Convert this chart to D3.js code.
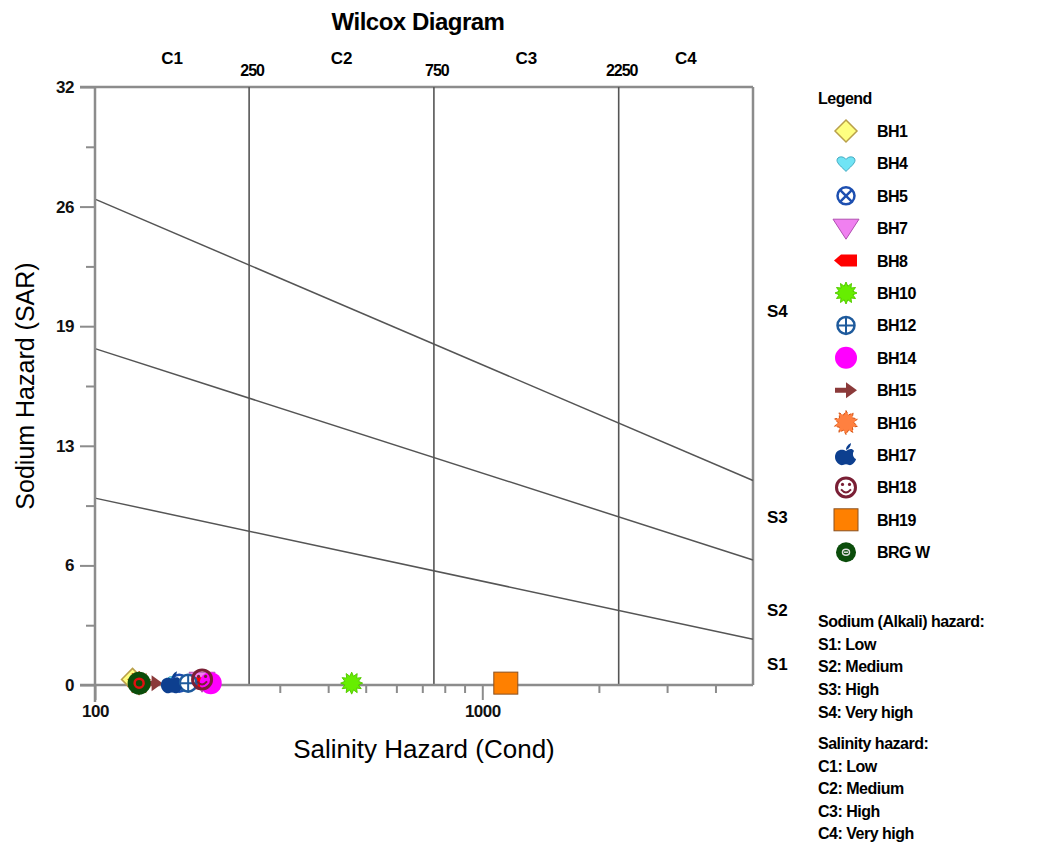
<!DOCTYPE html>
<html>
<head>
<meta charset="utf-8">
<script src="https://cdn.jsdelivr.net/npm/d3@7"></script>
<style>
  body { margin: 0; background: #fff; }
  svg { font-family: "Liberation Sans", Arial, sans-serif; }
</style>
</head>
<body>
<svg id="chart" width="1038" height="844"></svg>
<script>
// sample names, conductivity (EC) and SAR
var samples = ['BH1', 'BH4', 'BH5', 'BH7', 'BH8', 'BH10', 'BH12', 'BH14', 'BH15', 'BH16', 'BH17', 'BH18', 'BH19', 'BRG W'];
var ecValues = [125, 162, 165, 189, 186, 460, 174, 199, 140, 130, 158, 189, 1150, 130];
var sarValues = [0.3, 0.1, 0.1, 0.2, 0.1, 0.1, 0.1, 0.1, 0.1, 0.1, 0.1, 0.3, 0.1, 0.1];
var markerTypes = ['diamond', 'heart', 'circleX', 'triDown', 'arrowLeft', 'burstGreen', 'circlePlus', 'dot', 'arrowRight', 'burstOrange', 'apple', 'smiley', 'square', 'brg'];

// salinity class boundaries and class labels
var ecBounds = [250, 750, 2250];
var cClasses = ['C1', 'C2', 'C3', 'C4'];
var cEdges = [100, 250, 750, 2250, 5000];

// sodium hazard dividing lines: SAR at EC=100 and at EC=5000
var sarLineStart = [10, 18, 26];
var sarLineEnd = [2.45, 6.69, 10.94];
var sLabels = ['S1', 'S2', 'S3', 'S4'];
var sLabelSar = [1.1, 4.0, 9.0, 20.0];

// ticks
var yMajor = [0, 6.4, 12.8, 19.2, 25.6, 32];
var yMinor = [3.2, 9.6, 16, 22.4, 28.8];
var xMajor = [100, 1000];
var xMinor = [200, 300, 400, 500, 600, 700, 800, 900, 2000, 3000, 4000];

var notesSodium = ['Sodium (Alkali) hazard:', 'S1: Low', 'S2: Medium', 'S3: High', 'S4: Very high'];
var notesSalinity = ['Salinity hazard:', 'C1: Low', 'C2: Medium', 'C3: High', 'C4: Very high'];

var svg = d3.select('#chart');
var pLeft = 95, pRight = 753, pTop = 87, pBottom = 685;
var axisColor = '#8c8c8c';

var x = d3.scaleLog().domain([100, 5000]).range([pLeft, pRight]);
var y = d3.scaleLinear().domain([0, 32]).range([pBottom, pTop]);

// title
svg.append('text').attr('x', 418).attr('y', 30).attr('text-anchor', 'middle')
  .style('font-size', '24px').style('font-weight', 'bold').style('letter-spacing', '-0.5px').text('Wilcox Diagram');

// frame (top + right)
svg.append('line').attr('x1', pLeft - 15).attr('x2', pRight).attr('y1', pTop).attr('y2', pTop)
  .attr('stroke', axisColor).attr('stroke-width', 2.5);
svg.append('line').attr('x1', pRight).attr('x2', pRight).attr('y1', pTop).attr('y2', pBottom)
  .attr('stroke', axisColor).attr('stroke-width', 2.5);

// class boundaries
svg.selectAll('.vbound').data(ecBounds).enter().append('line')
  .attr('x1', function(d) { return x(d); }).attr('x2', function(d) { return x(d); })
  .attr('y1', pTop).attr('y2', pBottom)
  .attr('stroke', '#555').attr('stroke-width', 1.6);

svg.selectAll('.vlab').data(ecBounds).enter().append('text')
  .attr('x', function(d) { return x(d) + 3; }).attr('y', 76).attr('text-anchor', 'middle')
  .style('font-size', '16px').style('font-weight', 'bold').style('letter-spacing', '-1px')
  .text(function(d) { return d; });

svg.selectAll('.clab').data(cClasses).enter().append('text')
  .attr('x', function(d, i) { return x(Math.sqrt(cEdges[i] * cEdges[i + 1])); })
  .attr('y', 64).attr('text-anchor', 'middle')
  .style('font-size', '17px').style('font-weight', 'bold')
  .text(function(d) { return d; });

// sodium lines
svg.selectAll('.sline').data(sarLineStart).enter().append('line')
  .attr('x1', x(100)).attr('y1', function(d) { return y(d); })
  .attr('x2', x(5000)).attr('y2', function(d, i) { return y(sarLineEnd[i]); })
  .attr('stroke', '#555').attr('stroke-width', 1.5);

svg.selectAll('.slab').data(sLabels).enter().append('text')
  .attr('x', 767).attr('y', function(d, i) { return y(sLabelSar[i]) + 6; })
  .style('font-size', '17px').style('font-weight', 'bold')
  .text(function(d) { return d; });

// y axis
svg.append('g').attr('transform', 'translate(' + pLeft + ',0)')
  .call(d3.axisLeft(y).tickValues(yMajor).tickSize(15).tickPadding(6).tickFormat(d3.format('.0f')));
svg.append('g').attr('transform', 'translate(' + pLeft + ',0)')
  .call(d3.axisLeft(y).tickValues(yMinor).tickSize(9).tickFormat(''));

// x axis
svg.append('g').attr('transform', 'translate(0,' + pBottom + ')')
  .call(d3.axisBottom(x).tickValues(xMajor).tickSize(15).tickPadding(5).tickFormat(d3.format('d')));
svg.append('g').attr('transform', 'translate(0,' + pBottom + ')')
  .call(d3.axisBottom(x).tickValues(xMinor).tickSize(8).tickFormat(''));

svg.selectAll('.domain').remove();
svg.selectAll('.tick line').attr('stroke', axisColor).attr('stroke-width', 2);
svg.selectAll('.tick text').style('font-size', '17px').style('font-weight', 'bold')
  .style('letter-spacing', '-0.5px').attr('fill', '#111');

svg.append('line').attr('x1', pLeft).attr('x2', pLeft).attr('y1', pTop).attr('y2', 702)
  .attr('stroke', axisColor).attr('stroke-width', 2.5);
svg.append('line').attr('x1', pLeft - 15).attr('x2', pRight).attr('y1', pBottom).attr('y2', pBottom)
  .attr('stroke', axisColor).attr('stroke-width', 2.5);

// axis titles
svg.append('text').attr('transform', 'translate(34,386) rotate(-90)')
  .attr('text-anchor', 'middle').style('font-size', '25px').text('Sodium Hazard (SAR)');
svg.append('text').attr('x', 424).attr('y', 758).attr('text-anchor', 'middle')
  .style('font-size', '26px').text('Salinity Hazard (Cond)');

// marker drawing
function starPath(n, r1, r2) {
  var pts = [];
  for (var i = 0; i < n * 2; i++) {
    var a = Math.PI * i / n;
    var r = i % 2 ? r2 : r1;
    pts.push([Math.sin(a) * r, -Math.cos(a) * r]);
  }
  return d3.line()(pts) + 'Z';
}

function drawMarker(g, type, inPlot) {
  if (type == 'diamond') {
    g.append('path').attr('d', 'M0,-11L11,0L0,11L-11,0Z')
      .attr('fill', '#ffff80').attr('stroke', '#b9a04a').attr('stroke-width', 1.5);
  } else if (type == 'heart') {
    g.append('path').attr('d', 'M0,8C-4,4 -9,0 -9,-3C-9,-7 -3,-8 0,-4C3,-8 9,-7 9,-3C9,0 4,4 0,8Z')
      .attr('fill', '#70e4f5').attr('stroke', '#45a9c0').attr('stroke-width', 1);
  } else if (type == 'circleX') {
    g.append('circle').attr('r', 8.5).attr('fill', '#fff').attr('stroke', '#1d4fb0').attr('stroke-width', 2.5);
    g.append('path').attr('d', 'M-6,-6L6,6M-6,6L6,-6').attr('stroke', '#1d4fb0').attr('stroke-width', 2.5);
  } else if (type == 'triDown') {
    g.append('path').attr('d', 'M-13,-9L13,-9L0,11Z')
      .attr('fill', '#f080f0').attr('stroke', '#b050b0').attr('stroke-width', 1);
  } else if (type == 'arrowLeft') {
    g.append('path').attr('d', 'M-12,0L-5,-6L11,-6L11,6L-5,6Z').attr('fill', '#ff0000');
  } else if (type == 'burstGreen') {
    g.append('path').attr('d', starPath(12, 11, 7)).attr('fill', '#66ee00').attr('stroke', '#55cc00');
  } else if (type == 'circlePlus') {
    g.append('circle').attr('r', 8.5).attr('fill', '#fff').attr('stroke', '#1e5a9c').attr('stroke-width', 2.5);
    g.append('path').attr('d', 'M0,-8L0,8M-8,0L8,0').attr('stroke', '#1e5a9c').attr('stroke-width', 2);
  } else if (type == 'dot') {
    g.append('circle').attr('r', 11).attr('fill', '#ff00ff');
  } else if (type == 'arrowRight') {
    g.append('path').attr('d', 'M-11,-2.5L0,-2.5L0,-8L11,0L0,8L0,2.5L-11,2.5Z').attr('fill', '#8b3a3a');
  } else if (type == 'burstOrange') {
    g.append('path').attr('d', starPath(10, 12, 8)).attr('fill', '#ff8040')
      .attr('stroke', '#d05010').attr('stroke-dasharray', '3,2');
  } else if (type == 'apple') {
    g.append('path').attr('d', 'M0,-4C-4,-7 -11,-5 -11,2C-11,7 -6,11 -3,10C-1,9 1,9 3,10C6,11 10,6 10,4C7,3 6,-2 8,-4C6,-7 3,-6 0,-4Z')
      .attr('fill', '#0d3f8f');
    g.append('path').attr('d', 'M0,-5C0,-9 3,-11 5,-12C5,-9 3,-6 0,-5Z').attr('fill', '#0d3f8f');
  } else if (type == 'smiley') {
    g.append('circle').attr('r', 9.5).attr('fill', inPlot ? 'none' : '#fff').attr('stroke', '#7a1f35').attr('stroke-width', 3);
    g.append('circle').attr('cx', -3.5).attr('cy', -3).attr('r', 1.6).attr('fill', '#7a1f35');
    g.append('circle').attr('cx', 3.5).attr('cy', -3).attr('r', 1.6).attr('fill', '#7a1f35');
    g.append('path').attr('d', 'M-5,2Q0,8 5,2').attr('fill', 'none').attr('stroke', '#7a1f35').attr('stroke-width', 2);
  } else if (type == 'square') {
    g.append('rect').attr('x', -12).attr('y', -11).attr('width', 24).attr('height', 22)
      .attr('fill', '#ff8000').attr('stroke', '#8a5020').attr('stroke-width', 1);
  } else if (type == 'brg') {
    g.append('circle').attr('r', inPlot ? 11.5 : 10).attr('fill', '#0b4d0b');
    if (inPlot) {
      g.append('circle').attr('r', 4.5).attr('fill', 'none').attr('stroke', '#e01010').attr('stroke-width', 2.5);
    } else {
      g.append('ellipse').attr('rx', 3.5).attr('ry', 3).attr('fill', 'none').attr('stroke', '#ddd').attr('stroke-width', 1.5);
      g.append('line').attr('x1', -2).attr('x2', 2).attr('stroke', '#ddd').attr('stroke-width', 1.5);
    }
  }
}

// points
var pts = svg.append('g');
samples.forEach(function(name, i) {
  var g = pts.append('g')
    .attr('transform', 'translate(' + x(ecValues[i]) + ',' + y(sarValues[i]) + ')');
  drawMarker(g, markerTypes[i], true);
});

// legend
svg.append('text').attr('x', 818).attr('y', 104).style('font-size', '16px').style('font-weight', 'bold')
  .style('letter-spacing', '-0.5px').text('Legend');
var legend = svg.selectAll('.leg').data(samples).enter().append('g')
  .attr('transform', function(d, i) { return 'translate(846,' + (131 + i * 32.4) + ')'; });
legend.each(function(d, i) { drawMarker(d3.select(this), markerTypes[i], false); });
legend.append('text').attr('x', 31).attr('y', 6).style('font-size', '16px').style('font-weight', 'bold')
  .style('letter-spacing', '-0.5px').text(function(d) { return d; });

// hazard notes
svg.selectAll('.nsod').data(notesSodium).enter().append('text')
  .attr('x', 818).attr('y', function(d, i) { return 627 + i * 22.7; })
  .style('font-size', '16px').style('font-weight', 'bold').style('letter-spacing', '-0.5px')
  .text(function(d) { return d; });
svg.selectAll('.nsal').data(notesSalinity).enter().append('text')
  .attr('x', 818).attr('y', function(d, i) { return 749 + i * 22.6; })
  .style('font-size', '16px').style('font-weight', 'bold').style('letter-spacing', '-0.5px')
  .text(function(d) { return d; });
</script>
</body>
</html>
